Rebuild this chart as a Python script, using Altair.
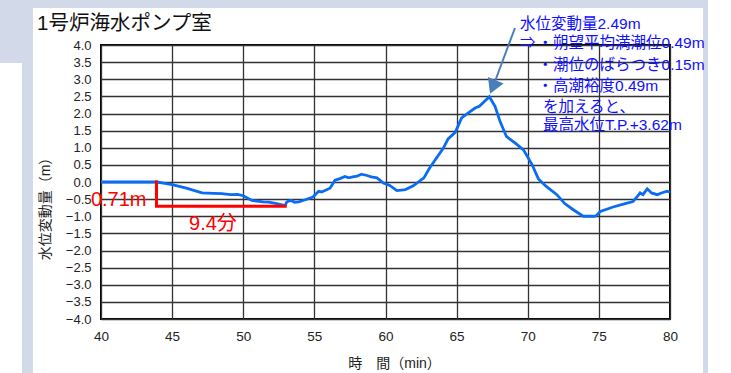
import altair as alt
import pandas as pd

# ---- data ----
time_min = [40, 43.9, 44.5, 45.0, 46.0, 47.1, 47.9, 48.5, 49.1, 49.6, 50.0, 50.6, 51.4, 51.8,
            52.35, 52.94, 53.05, 53.2, 53.4, 53.6, 53.9, 54.2, 54.9, 55.3, 55.5, 56.1, 56.45,
            56.8, 57.15, 57.4, 57.7, 58.0, 58.3, 58.7, 59.0, 59.4, 59.85, 60.3, 60.8, 61.4,
            61.95, 62.7, 63.1, 63.5, 64.07, 64.4, 64.9, 65.35, 65.8, 66.3, 66.6, 67.3, 67.7,
            68.05, 68.5, 69.1, 69.7, 70.3, 70.75, 71.3, 72.05, 72.6, 73.2, 73.9, 74.6, 74.8,
            75.1, 76.0, 76.85, 77.4, 77.75, 77.9, 78.1, 78.4, 78.7, 79.1, 79.4, 79.8, 80]
level_m = [0, 0, -0.04, -0.08, -0.18, -0.32, -0.33, -0.34, -0.37, -0.36, -0.40, -0.54, -0.58,
           -0.59, -0.63, -0.69, -0.59, -0.55, -0.54, -0.59, -0.58, -0.54, -0.44, -0.27, -0.29,
           -0.18, 0.05, 0.10, 0.16, 0.12, 0.15, 0.17, 0.23, 0.19, 0.15, 0.12, -0.03, -0.10,
           -0.25, -0.22, -0.11, 0.12, 0.41, 0.65, 0.99, 1.26, 1.45, 1.87, 2.01, 2.16, 2.21,
           2.49, 2.21, 1.77, 1.33, 1.14, 0.94, 0.51, 0.09, -0.13, -0.37, -0.63, -0.81, -1.0,
           -1.0, -0.99, -0.86, -0.73, -0.63, -0.57, -0.40, -0.32, -0.37, -0.20, -0.32, -0.37,
           -0.32, -0.27, -0.30]

x_ticks = [40, 45, 50, 55, 60, 65, 70, 75, 80]
y_ticks = [-4.0, -3.5, -3.0, -2.5, -2.0, -1.5, -1.0, -0.5, 0.0, 0.5, 1.0, 1.5, 2.0, 2.5, 3.0, 3.5, 4.0]

# red drawdown marker (start 43.9 min, drop 0.71 m)
red_t = [43.9, 43.9, 52.95]
red_v = [0.0, -0.71, -0.71]
red_labels = ["0.71m", "9.4分"]
red_label_t = [43.2, 47.87]
red_label_v = [-0.526, -1.226]

# blue annotation
blue_lines = ["水位変動量2.49m", "⇒", "・朔望平均満潮位0.49m", "・潮位のばらつき0.15m",
              "・高潮裕度0.49m", "を加えると、", "最高水位T.P.+3.62m"]
blue_t = [69.455, 69.455, 70.69, 70.69, 70.69, 71.07, 71.07]
blue_v = [4.613, 4.058, 4.058, 3.416, 2.803, 2.19, 1.664]

arrow_t = [69.10, 67.55]
arrow_v = [4.496, 2.774]

W, H = 569, 274
CJK = "Liberation Sans, Noto Sans CJK JP"

xs = alt.Scale(domain=[40, 80], nice=False)
ys = alt.Scale(domain=[-4, 4], nice=False)

x_axis = alt.Axis(values=x_ticks, format="d", title="時　間（min）", ticks=False,
                  domain=False, labelPadding=10, labelFontSize=13.5, labelFlush=False,
                  labelOverlap=False, labelFont="Liberation Sans", labelColor="#222",
                  gridColor="#333333", gridWidth=1.3, gridOpacity=1,
                  titleFont=CJK, titleFontSize=14, titleFontWeight="normal",
                  titleColor="#222", titleX=293, titleY=44,
                  titleAlign="center", titleBaseline="middle")
y_axis = alt.Axis(values=y_ticks, format=".1f", title="水位変動量（m）", ticks=False,
                  domain=False, labelPadding=10, labelFontSize=13, labelFlush=False,
                  labelOverlap=False, labelFont="Liberation Sans", labelColor="#222",
                  gridColor="#333333", gridWidth=1.3, gridOpacity=1,
                  titleFont=CJK, titleFontSize=14, titleFontWeight="normal",
                  titleColor="#222", titleX=-56, titleY=160, titleAngle=270,
                  titleAlign="center", titleBaseline="middle")

X = alt.X("t:Q", scale=xs, axis=x_axis)
Y = alt.Y("v:Q", scale=ys, axis=y_axis)

df = pd.DataFrame({"t": time_min, "v": level_m})

def gray_rect(x1, x2, y1, y2):
    return alt.Chart(alt.Data(values=[{}])).mark_rect(color="#d2d9e8").encode(
        x=alt.value(x1), x2=alt.value(x2), y=alt.value(y1), y2=alt.value(y2))

bg = [gray_rect(-101, 607, -45, -37), gray_rect(-101, -68, -45, 18),
      gray_rect(-79, -68, -45, 328), gray_rect(602, 607, -45, 328)]

line = alt.Chart(df).mark_line(color="#0a6cf5", strokeWidth=2.8, clip=True).encode(x=X, y=Y)

red_df = pd.DataFrame({"t": red_t, "v": red_v, "o": [0, 1, 2]})
red = alt.Chart(red_df).mark_line(color="#ff0000", strokeWidth=3, strokeCap="square").encode(
    x=X, y=Y, order="o:Q")

red_txt_df = pd.DataFrame({"t": red_label_t, "v": red_label_v, "s": red_labels})
red_txt1 = alt.Chart(red_txt_df.iloc[[0]]).mark_text(
    color="#ff0000", fontSize=20, font=CJK, align="right", baseline="middle").encode(
    x=X, y=Y, text="s:N")
red_txt2 = alt.Chart(red_txt_df.iloc[[1]]).mark_text(
    color="#ff0000", fontSize=20, font=CJK, align="center", baseline="middle").encode(
    x=X, y=Y, text="s:N")

blue_df = pd.DataFrame({"t": blue_t, "v": blue_v, "s": blue_lines})
blue_txt = alt.Chart(blue_df).mark_text(
    color="#0f0fff", fontSize=15.5, font=CJK, align="left", baseline="middle").encode(
    x=X, y=Y, text="s:N")

arrow_df = pd.DataFrame({"t": [arrow_t[0]], "v": [arrow_v[0]],
                         "t2": [arrow_t[1]], "v2": [arrow_v[1]]})
arrow_line = alt.Chart(arrow_df).mark_rule(color="#4a7ebb", strokeWidth=2).encode(
    x=X, y=Y, x2="t2:Q", y2="v2:Q")
head_df = pd.DataFrame({"t": [arrow_t[1]], "v": [arrow_v[1]]})
arrow_head = alt.Chart(head_df).mark_point(
    shape="triangle-down", filled=True, color="#4a7ebb", size=289, angle=23, opacity=1).encode(
    x=X, y=Y)

chart = alt.layer(*bg, line, red, red_txt1, red_txt2, arrow_line, arrow_head, blue_txt).properties(
    width=W, height=H,
    title=alt.TitleParams("1号炉海水ポンプ室", anchor="start", frame="group", dx=-64, dy=50,
                          offset=0, fontSize=20.5, font=CJK, fontWeight="normal",
                          color="#111", baseline="alphabetic"),
    autosize=alt.AutoSizeParams(type="none"),
    padding={"left": 101, "top": 45, "right": 61, "bottom": 54},
).configure(background="white").configure_view(
    stroke="black", strokeWidth=2, fill="white")

chart.save("out.html", embed_options={"renderer": "svg", "actions": False})
